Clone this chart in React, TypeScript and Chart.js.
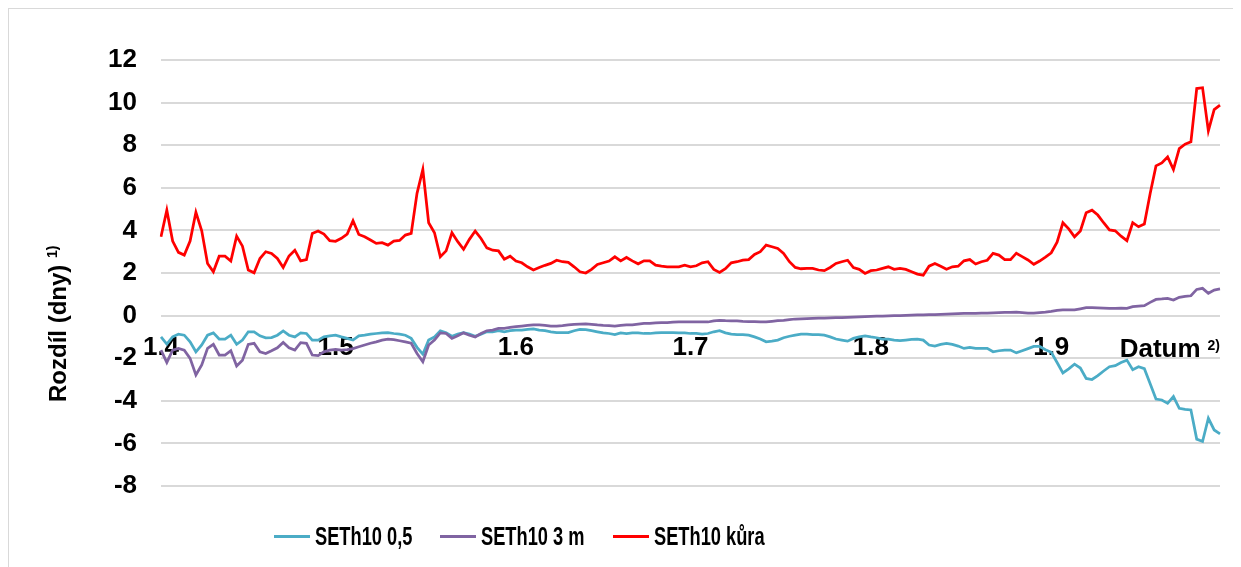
import React, { useEffect, useRef } from 'react';
import { Chart, registerables } from 'chart.js';

Chart.register(...registerables);

const FONT = "'Liberation Sans', Arial, Helvetica, sans-serif";

// Categories: daily dates from 1.4 to 30.9
const MONTHS = [4, 5, 6, 7, 8, 9];
const MONTH_DAYS = [30, 31, 30, 31, 31, 30];
const categories: string[] = [];
MONTHS.forEach((m, k) => {
  for (let d = 1; d <= MONTH_DAYS[k]; d++) categories.push(`${d}.${m}`);
});

const SERIES_NAMES = ['SETh10 0,5', 'SETh10 3 m', 'SETh10 kůra'];
const SERIES_COLORS = ['#4BACC6', '#8064A2', '#FF0000'];

const seth05 = [
  -1.0, -1.34, -1.0, -0.87, -0.92, -1.23, -1.7, -1.38, -0.92, -0.81,
  -1.1, -1.1, -0.92, -1.35, -1.15, -0.76, -0.76, -0.95, -1.04, -1.03,
  -0.92, -0.72, -0.92, -1.0, -0.81, -0.84, -1.15, -1.15, -1.0, -0.95,
  -0.92, -1.0, -1.07, -1.15, -0.95, -0.92, -0.87, -0.84, -0.81, -0.8,
  -0.84, -0.87, -0.92, -1.07, -1.49, -1.81, -1.15, -1.0, -0.72, -0.81,
  -0.97, -0.87, -0.8, -0.87, -0.97, -0.87, -0.76, -0.76, -0.71, -0.76,
  -0.71, -0.68, -0.68, -0.65, -0.62, -0.68, -0.71, -0.76, -0.8, -0.8,
  -0.8, -0.71, -0.65, -0.66, -0.71, -0.76, -0.81, -0.84, -0.89, -0.81,
  -0.84, -0.81, -0.81, -0.84, -0.84, -0.81, -0.8, -0.8, -0.8, -0.81,
  -0.81, -0.84, -0.84, -0.87, -0.84, -0.76, -0.71, -0.81, -0.87, -0.89,
  -0.89, -0.92, -1.0, -1.1, -1.23, -1.2, -1.15, -1.04, -0.97, -0.92,
  -0.87, -0.87, -0.89, -0.89, -0.92, -1.0, -1.1, -1.15, -1.2, -1.07,
  -1.0, -0.95, -1.0, -1.04, -1.1, -1.1, -1.15, -1.18, -1.15, -1.12,
  -1.1, -1.15, -1.38, -1.43, -1.35, -1.3, -1.35, -1.43, -1.54, -1.49,
  -1.54, -1.54, -1.54, -1.7, -1.65, -1.62, -1.62, -1.75, -1.65, -1.55,
  -1.45, -1.45, -1.6, -1.72, -2.2, -2.69, -2.5, -2.28, -2.46, -2.95,
  -3.0, -2.82, -2.6, -2.4, -2.35, -2.2, -2.09, -2.54, -2.4, -2.49,
  -3.2, -3.92, -3.96, -4.12, -3.8, -4.35, -4.4, -4.43, -5.8, -5.91,
  -4.82, -5.37, -5.55,
];

const seth3m = [
  -1.62, -2.2, -1.62, -1.54, -1.62, -2.01, -2.79, -2.32, -1.54, -1.35,
  -1.85, -1.85, -1.65, -2.37, -2.1, -1.35, -1.3, -1.7, -1.78, -1.65,
  -1.51, -1.26, -1.51, -1.62, -1.27, -1.3, -1.85, -1.88, -1.7, -1.62,
  -1.59, -1.62, -1.6, -1.55, -1.46, -1.38, -1.3, -1.23, -1.15, -1.1,
  -1.13, -1.18, -1.23, -1.3, -1.78, -2.17, -1.38, -1.15, -0.81, -0.84,
  -1.07, -0.95, -0.81, -0.92, -1.0, -0.84, -0.71, -0.68, -0.6, -0.6,
  -0.55, -0.52, -0.49, -0.46, -0.43, -0.44, -0.46, -0.49, -0.49, -0.47,
  -0.44, -0.41, -0.4, -0.39, -0.41, -0.44, -0.46, -0.47, -0.49, -0.46,
  -0.44, -0.43, -0.4, -0.37, -0.37, -0.34, -0.33, -0.33, -0.31, -0.3,
  -0.3, -0.3, -0.3, -0.3, -0.3, -0.25, -0.22, -0.24, -0.25, -0.25,
  -0.27, -0.28, -0.28, -0.3, -0.3, -0.27, -0.24, -0.22, -0.19, -0.16,
  -0.15, -0.14, -0.13, -0.12, -0.12, -0.11, -0.1, -0.09, -0.08, -0.07,
  -0.06, -0.05, -0.04, -0.03, -0.02, -0.01, 0.0, 0.0, 0.01, 0.02,
  0.03, 0.03, 0.04, 0.05, 0.06, 0.07, 0.08, 0.09, 0.1, 0.1,
  0.11, 0.12, 0.12, 0.13, 0.14, 0.15, 0.15, 0.16, 0.14, 0.12,
  0.12, 0.14, 0.16, 0.2, 0.25, 0.27, 0.27, 0.27, 0.32, 0.37,
  0.37, 0.36, 0.35, 0.34, 0.34, 0.35, 0.34, 0.42, 0.45, 0.47,
  0.62, 0.76, 0.78, 0.81, 0.73, 0.86, 0.9, 0.93, 1.23, 1.28,
  1.05, 1.2, 1.25,
];

const sethKura = [
  3.7, 4.95, 3.5, 2.97, 2.84, 3.5, 4.85, 3.98, 2.45, 2.06,
  2.79, 2.79, 2.56, 3.73, 3.26, 2.14, 2.01, 2.68, 3.0, 2.92,
  2.68, 2.26, 2.8, 3.07, 2.57, 2.63, 3.86, 3.97, 3.83, 3.52,
  3.49, 3.63, 3.83, 4.45, 3.81, 3.7, 3.55, 3.39, 3.42, 3.31,
  3.5, 3.53, 3.78, 3.86, 5.74, 6.86, 4.36, 3.89, 2.76, 3.04,
  3.89, 3.47, 3.11, 3.58, 3.97, 3.62, 3.18, 3.07, 3.04, 2.65,
  2.79, 2.56, 2.48, 2.29, 2.14, 2.26, 2.36, 2.45, 2.6, 2.53,
  2.5, 2.29, 2.06, 2.0, 2.17, 2.4, 2.48, 2.56, 2.76, 2.57,
  2.73, 2.57, 2.43, 2.57, 2.57, 2.37, 2.32, 2.29, 2.29, 2.29,
  2.37, 2.29, 2.34, 2.48, 2.53, 2.17, 2.03, 2.2, 2.48, 2.53,
  2.6, 2.63, 2.87, 3.0, 3.31, 3.23, 3.15, 2.92, 2.53, 2.26,
  2.2, 2.22, 2.22, 2.14, 2.11, 2.26, 2.45, 2.53, 2.6, 2.25,
  2.17, 1.98, 2.11, 2.14, 2.22, 2.29, 2.17, 2.22, 2.17, 2.06,
  1.95, 1.9, 2.32, 2.45, 2.32, 2.18, 2.29, 2.32, 2.57, 2.63,
  2.42, 2.53, 2.6, 2.92, 2.84, 2.63, 2.63, 2.93, 2.77, 2.61,
  2.41, 2.56, 2.75, 2.95, 3.45, 4.36, 4.07, 3.7, 3.97, 4.83,
  4.95, 4.72, 4.36, 4.02, 3.98, 3.73, 3.52, 4.36, 4.17, 4.3,
  5.73, 7.03, 7.17, 7.45, 6.86, 7.84, 8.05, 8.16, 10.66, 10.7,
  8.67, 9.67, 9.88,
];

const SERIES_VALUES = [seth05, seth3m, sethKura];

const Y_MIN = -8;
const Y_MAX = 12;
const Y_STEP = 2;

const Y_TITLE = 'Rozdíl (dny)';
const Y_TITLE_SUP = '1)';
const X_TITLE = 'Datum';
const X_TITLE_SUP = '2)';

const axisTitlePlugin = {
  id: 'axisTitles',
  afterDraw(chart: any) {
    const { ctx, chartArea, scales } = chart;
    const y0 = scales.y.getPixelForValue(0);
    ctx.save();
    ctx.fillStyle = '#000';
    ctx.textBaseline = 'alphabetic';
    // x axis title at the right end of the zero line
    ctx.font = `bold 14px ${FONT}`;
    ctx.textAlign = 'right';
    const supW = ctx.measureText(X_TITLE_SUP).width;
    ctx.fillText(X_TITLE_SUP, chartArea.right, y0 + 34);
    ctx.font = `bold 26px ${FONT}`;
    ctx.fillText(X_TITLE, chartArea.right - supW - 7, y0 + 41);
    // y axis title, rotated
    ctx.translate(57, 393);
    ctx.rotate(-Math.PI / 2);
    ctx.textAlign = 'left';
    ctx.font = `bold 24px ${FONT}`;
    ctx.fillText(Y_TITLE, 0, 0);
    const w = ctx.measureText(Y_TITLE + ' ').width;
    ctx.font = `bold 14px ${FONT}`;
    ctx.fillText(Y_TITLE_SUP, w, -9);
    ctx.restore();
  },
};

const LEGEND_LEFTS = [265, 431, 604];

export default function App() {
  const ref = useRef<HTMLCanvasElement>(null);

  useEffect(() => {
    document.documentElement.style.overflow = 'hidden';
    const chart = new Chart(ref.current as HTMLCanvasElement, {
      type: 'line',
      data: {
        labels: categories,
        datasets: SERIES_NAMES.map((name, k) => ({
          label: name,
          data: SERIES_VALUES[k],
          borderColor: SERIES_COLORS[k],
          backgroundColor: SERIES_COLORS[k],
          borderWidth: 2.75,
          pointRadius: 0,
          tension: 0,
          fill: false,
          order: 3 - k,
        })),
      },
      options: {
        animation: false,
        responsive: false,
        events: [],
        layout: { padding: { top: 51, right: 11, bottom: 83, left: 0 } },
        plugins: {
          legend: { display: false },
          tooltip: { enabled: false },
        },
        scales: {
          x: {
            type: 'category',
            position: { y: 0 } as any,
            offset: false,
            grid: { display: false, drawTicks: false },
            border: { display: false },
            ticks: {
              autoSkip: false,
              maxRotation: 0,
              minRotation: 0,
              padding: 17,
              color: '#000',
              font: { family: FONT, size: 26, weight: 'bold' },
              callback: (_v: any, i: number) =>
                categories[i].startsWith('1.') ? categories[i] : null,
            },
            afterFit: (s: any) => {
              s.height = 0;
            },
          },
          y: {
            min: Y_MIN,
            max: Y_MAX,
            ticks: {
              stepSize: Y_STEP,
              padding: 24,
              color: '#000',
              font: { family: FONT, size: 26, weight: 'bold' },
            },
            grid: { color: '#d9d9d9', lineWidth: 2, drawTicks: false },
            border: { display: false },
            afterFit: (s: any) => {
              s.width = 152;
            },
          },
        },
      },
      plugins: [axisTitlePlugin],
    });
    return () => chart.destroy();
  }, []);

  return (
    <div
      style={{
        position: 'relative',
        width: 1240,
        height: 570,
        borderTop: '1px solid #d9d9d9',
        borderLeft: '1px solid #d9d9d9',
        fontFamily: FONT,
      }}
    >
      <canvas ref={ref} width={1222} height={560} style={{ display: 'block' }} />
      {SERIES_NAMES.map((name, k) => (
        <div
          key={name}
          style={{
            position: 'absolute',
            left: LEGEND_LEFTS[k],
            top: 512,
            height: 30,
            display: 'flex',
            alignItems: 'center',
          }}
        >
          <span
            style={{
              display: 'inline-block',
              width: 36,
              height: 3,
              background: SERIES_COLORS[k],
              marginRight: 5,
            }}
          />
          <span
            style={{
              fontSize: 25,
              fontWeight: 'bold',
              lineHeight: '30px',
              whiteSpace: 'nowrap',
              display: 'inline-block',
              transform: 'scaleX(0.73)',
              transformOrigin: 'left center',
              color: '#000',
            }}
          >
            {name}
          </span>
        </div>
      ))}
    </div>
  );
}
